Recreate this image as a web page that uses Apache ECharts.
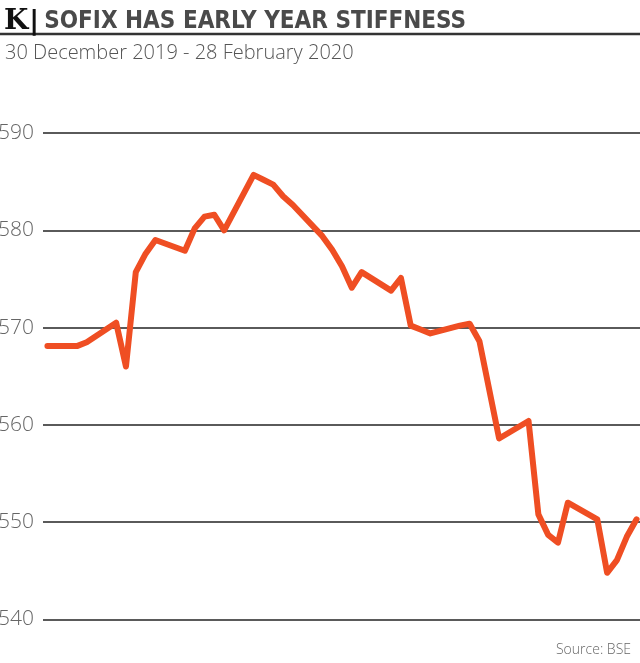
<!DOCTYPE html>
<html>
<head>
<meta charset="utf-8">
<script src="https://cdn.jsdelivr.net/npm/echarts@6/dist/echarts.min.js"></script>
<style>
html,body{margin:0;padding:0;background:#fff;}
#chart{width:640px;height:663px;}
</style>
</head>
<body>
<div id="chart"></div>
<script>
// Trading days (x categories on a time scale)
const dates = [
  '2019-12-30','2019-12-31','2020-01-02','2020-01-03',
  '2020-01-06','2020-01-07','2020-01-08','2020-01-09','2020-01-10',
  '2020-01-13','2020-01-14','2020-01-15','2020-01-16','2020-01-17',
  '2020-01-20','2020-01-21','2020-01-22','2020-01-23','2020-01-24',
  '2020-01-27','2020-01-28','2020-01-29','2020-01-30','2020-01-31',
  '2020-02-03','2020-02-04','2020-02-05','2020-02-06','2020-02-07',
  '2020-02-10','2020-02-11','2020-02-12','2020-02-13','2020-02-14',
  '2020-02-17','2020-02-18','2020-02-19','2020-02-20','2020-02-21',
  '2020-02-24','2020-02-25','2020-02-26','2020-02-27','2020-02-28'
];
// SOFIX closing values
const sofix = [
  568.1, 568.1, 568.1, 568.5,
  570.5, 566.0, 575.7, 577.6, 579.0,
  577.9, 580.2, 581.4, 581.6, 580.0,
  585.7, 585.2, 584.7, 583.5, 582.6,
  579.4, 578.0, 576.3, 574.1, 575.7,
  573.8, 575.1, 570.2, 569.8, 569.4,
  570.2, 570.4, 568.6, 563.6, 558.6,
  560.4, 550.8, 548.7, 547.9, 552.0,
  550.3, 544.8, 546.1, 548.5, 550.3
];
// Y axis tick labels
const yTicks = [540, 550, 560, 570, 580, 590];

const titleText = 'SOFIX HAS EARLY YEAR STIFFNESS';
const subtitleText = '30 December 2019 - 28 February 2020';
const sourceText = 'Source: BSE';

function ts(s){ const p = s.split('-'); return new Date(+p[0], +p[1]-1, +p[2]).getTime(); }
const DAY = 86400000;
const seriesData = dates.map((d,i)=>[ts(d), sofix[i]]);

const chart = echarts.init(document.getElementById('chart'), null, {renderer:'canvas'});
chart.setOption({
  backgroundColor:'#ffffff',
  animation:false,
  title:[
    {
      text:'{k|K}{bar||}{t|' + titleText + '}',
      left:-1, top:1,
      textStyle:{
        rich:{
          k:{fontFamily:'DejaVu Serif', fontWeight:'bold', fontSize:28, color:'#111', lineHeight:32},
          bar:{fontFamily:'DejaVu Sans', fontWeight:'bold', fontSize:27, color:'#111', lineHeight:32, padding:[0,5,0,1]},
          t:{fontFamily:"'DejaVu Sans Condensed', 'Roboto Condensed', Roboto", fontWeight:'bold', fontSize:24, color:'#4a4a4a', lineHeight:32}
        }
      }
    },
    {
      text:subtitleText,
      left:0, top:38,
      textStyle:{fontFamily:'Open Sans', fontWeight:300, fontSize:20, color:'#555'}
    },
    {
      text:sourceText,
      right:4, top:638,
      textStyle:{fontFamily:'Open Sans', fontWeight:300, fontSize:14, color:'#666'}
    }
  ],
  graphic:[
    {type:'line', shape:{x1:0,y1:34,x2:640,y2:34}, style:{stroke:'#333', lineWidth:2.5}}
  ],
  grid:{left:43, right:0, top:133, bottom:43.5, containLabel:false, outerBoundsMode:'none'},
  xAxis:{
    type:'time',
    min: ts(dates[0]) - 0.45*DAY,
    max: ts(dates[dates.length-1]) + 0.35*DAY,
    axisLine:{show:false}, axisTick:{show:false}, axisLabel:{show:false}, splitLine:{show:false}
  },
  yAxis:{
    type:'value', min:yTicks[0], max:yTicks[yTicks.length-1], interval:10,
    axisLine:{show:false}, axisTick:{show:false},
    axisLabel:{
      margin:9, fontFamily:'Open Sans', fontWeight:300, fontSize:21, color:'#666',
      formatter:v=> yTicks.includes(v) ? String(v) : ''
    },
    splitLine:{show:true, lineStyle:{color:'#5a5a5a', width:2}}
  },
  series:[{
    type:'line', data:seriesData, showSymbol:false, symbol:'none',
    lineStyle:{color:'#ef4e23', width:6, cap:'round', join:'round'},
    z:5
  }]
});
</script>
</body>
</html>
